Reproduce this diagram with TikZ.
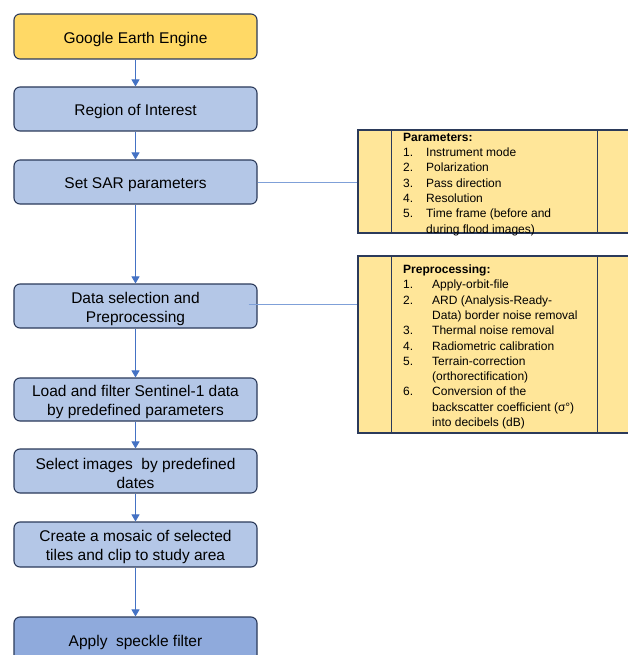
\documentclass[tikz,border=0pt]{standalone}
\usepackage{fontspec}
\setmainfont{Liberation Sans}
\usetikzlibrary{arrows.meta}
\definecolor{navy}{HTML}{2B3A5A}
\definecolor{gold}{HTML}{FFD966}
\definecolor{paleyel}{HTML}{FFE699}
\definecolor{paleblue}{HTML}{B4C7E7}
\definecolor{midblue}{HTML}{8FAADC}
\definecolor{arrowblue}{HTML}{4472C4}
\definecolor{linkblue}{HTML}{7FA0D8}
\tikzset{
  flowbox/.style={draw=navy, line width=1.1pt, rounded corners=6pt, fill=paleblue,
    minimum width=243pt, inner sep=0pt},
  ftext/.style={inner sep=0pt, align=center, yshift=-2.5pt,
    font=\fontsize{15.5}{19}\selectfont},
  sidebox/.style={draw=navy, line width=1.1pt, fill=paleyel, inner sep=0pt},
  flowarrow/.style={draw=arrowblue, line width=0.9pt, -{Triangle[length=7pt,width=8pt]}},
  linkline/.style={draw=linkblue, line width=0.8pt},
  sidetext/.style={inner sep=0pt, anchor=north west, align=left,
    font=\fontsize{12}{15.3}\selectfont}
}
\begin{document}
\begin{tikzpicture}[x=1pt,y=-1pt]
\useasboundingbox (0,0) rectangle (628,655);
\clip (0,0) rectangle (628,655);
\fill[white] (0,0) rectangle (628,655);

% right-hand boxes
\node[sidebox, minimum width=282pt, minimum height=103pt] (pbox) at (499,181.5) {};
\draw[navy, line width=1.1pt] ([xshift=34pt]pbox.north west) -- ([xshift=34pt]pbox.south west);
\draw[navy, line width=1.1pt] ([xshift=240pt]pbox.north west) -- ([xshift=240pt]pbox.south west);
\node[sidetext] (ptext) at (403,130.3) {%
\begin{tabular}{@{}p{23pt}@{}l@{}}
\multicolumn{2}{@{}l@{}}{\textbf{Parameters:}}\\
1. & Instrument mode\\
2. & Polarization\\
3. & Pass direction\\
4. & Resolution\\
5. & Time frame (before and\\
 & during flood images)
\end{tabular}};

\node[sidebox, minimum width=282pt, minimum height=177pt] (qbox) at (499,344.5) {};
\draw[navy, line width=1.1pt] ([xshift=34pt]qbox.north west) -- ([xshift=34pt]qbox.south west);
\draw[navy, line width=1.1pt] ([xshift=240pt]qbox.north west) -- ([xshift=240pt]qbox.south west);
\node[sidetext] (qtext) at (403,262.6) {%
\begin{tabular}{@{}p{29pt}@{}l@{}}
\multicolumn{2}{@{}l@{}}{\textbf{Preprocessing:}}\\
1. & Apply-orbit-file\\
2. & ARD (Analysis-Ready-\\
 & Data) border noise removal\\
3. & Thermal noise removal\\
4. & Radiometric calibration\\
5. & Terrain-correction\\
 & (orthorectification)\\
6. & Conversion of the\\
 & backscatter coefficient (σ°)\\
 & into decibels (dB)
\end{tabular}};

% flow boxes
\node[flowbox, fill=gold, minimum height=45pt] (gee) at (135.5,36.5) {};
\node[flowbox, minimum height=44pt] (roi) at (135.5,109) {};
\node[flowbox, minimum height=44pt] (sar) at (135.5,182) {};
\node[flowbox, minimum height=44pt] (ds) at (135.5,306) {};
\node[flowbox, minimum height=43pt] (load) at (135.5,399.5) {};
\node[flowbox, minimum height=44pt] (sel) at (135.5,471) {};
\node[flowbox, minimum height=45pt] (mos) at (135.5,544.5) {};
\node[flowbox, fill=midblue, minimum height=46pt] (app) at (135.5,640) {};

\node[ftext] (geet) at (gee.center) {Google Earth Engine};
\node[ftext] (roit) at (roi.center) {Region of Interest};
\node[ftext] (sart) at (sar.center) {Set SAR parameters};
\node[ftext] (dst) at (ds.center) {Data selection and\\Preprocessing};
\node[ftext] (loadt) at (load.center) {Load and filter Sentinel-1 data\\by predefined parameters};
\node[ftext] (selt) at (sel.center) {Select images\ \ by predefined\\dates};
\node[ftext] (most) at (mos.center) {Create a mosaic of selected\\tiles and clip to study area};
\node[ftext] (appt) at (app.center) {Apply\ \ speckle filter};

% connectors
\draw[flowarrow] (gee) -- (roi);
\draw[flowarrow] (roi) -- (sar);
\draw[flowarrow] (sar) -- (ds);
\draw[flowarrow] (ds) -- (load);
\draw[flowarrow] (load) -- (sel);
\draw[flowarrow] (sel) -- (mos);
\draw[flowarrow] (mos) -- (app);

\draw[linkline] (sar.east) -- (sar.east -| pbox.west);
\draw[linkline] ([xshift=-9pt,yshift=2pt]ds.east) -- ([yshift=2pt]ds.east -| qbox.west);
\end{tikzpicture}
\end{document}
